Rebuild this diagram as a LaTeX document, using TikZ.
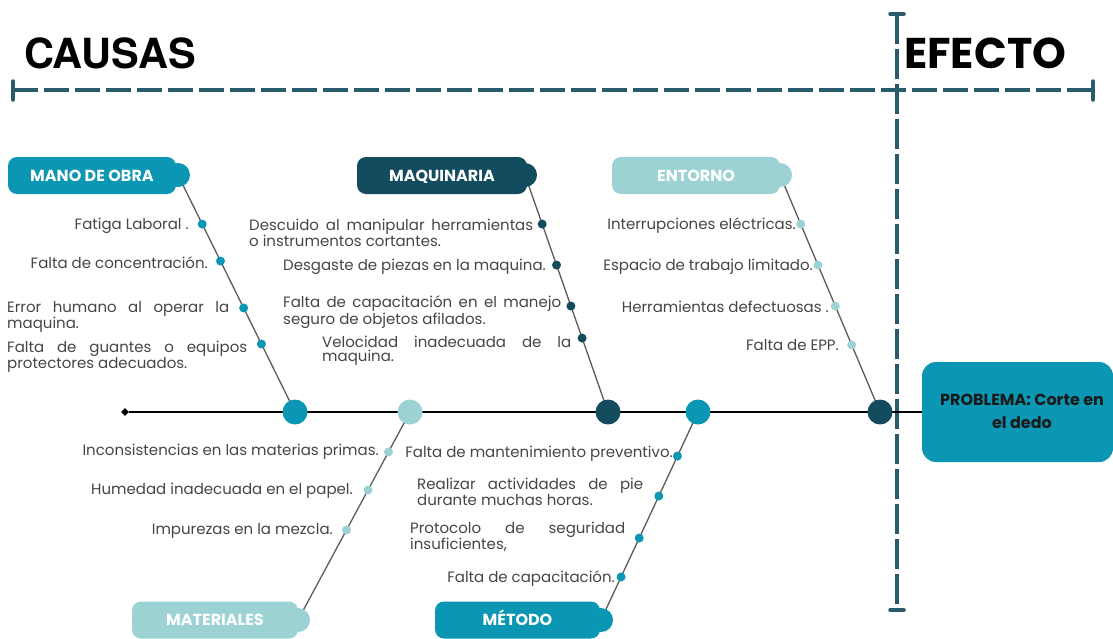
\documentclass[tikz,border=0pt]{standalone}
\usepackage{fontspec}
\setmainfont{Poppins}
\newfontfamily\heros{TeX Gyre Heros}
\usetikzlibrary{shapes.geometric}
\definecolor{tealA}{HTML}{0B96B4}
\definecolor{navyA}{HTML}{134B5F}
\definecolor{lightA}{HTML}{9CD2D4}
\definecolor{dashA}{HTML}{285B6C}
\definecolor{txtA}{HTML}{454545}
\definecolor{brA}{HTML}{5A5A5A}
\definecolor{probtxt}{HTML}{1A1A1A}
\tikzset{
  lbl/.style={font=\fontsize{15}{14}\selectfont, text=txtA, inner sep=0pt, yshift=-2pt},
  lblj/.style={lbl, align=left},
  tabbox/.style={rectangle, rounded corners=9pt, minimum width=168pt, minimum height=37pt, inner sep=0pt,
     text height=11.5pt, text depth=0.5pt,
     font=\bfseries\fontsize{16}{16}\selectfont, text=white},
  bump/.style={circle, inner sep=0pt, minimum size=24pt},
  dot/.style={circle, inner sep=0pt, minimum size=9pt},
  bone/.style={circle, inner sep=0pt, minimum size=25pt},
  branch/.style={draw=brA, line width=1.3pt},
  spine/.style={draw=black, line width=2pt},
  dashln/.style={draw=dashA, line width=3.5pt, dash pattern=on 25pt off 6pt},
  capln/.style={draw=dashA, line width=3.5pt, line cap=round},
}
\begin{document}
\begin{tikzpicture}[x=1pt,y=-1pt]
\useasboundingbox (0,0) rectangle (1113,638);
% headers
\node[anchor=base west, inner sep=0pt, font=\heros\bfseries\fontsize{41.5}{42}\selectfont] (causas) at (24,68) {CAUSAS};
\node[anchor=base west, inner sep=0pt, font=\bfseries\fontsize{43}{44}\selectfont] (efecto) at (904,68) {EFECTO};
% dashed frame lines
\coordinate (hL) at (13,90); \coordinate (hR) at (1093,90);
\coordinate (vT) at (897,14); \coordinate (vB) at (897,610);
\draw[dashln] (hL) -- (hR);
\draw[dashln, dash pattern=on 30pt off 5pt] (vT) -- (vB);
\coordinate (hL1) at (13,81); \coordinate (hL2) at (13,100);
\coordinate (hR1) at (1093,81); \coordinate (hR2) at (1093,100);
\coordinate (vT1) at (890,14); \coordinate (vT2) at (904,14);
\coordinate (vB1) at (890,610); \coordinate (vB2) at (904,610);
\draw[capln] (hL1) -- (hL2); \draw[capln] (hR1) -- (hR2);
\draw[capln] (vT1) -- (vT2); \draw[capln] (vB1) -- (vB2);
\draw[dashA, line width=3pt] (vT) -- (897,40);
% problem box
\node[rectangle, rounded corners=14pt, fill=tealA, minimum width=191pt, minimum height=100pt, inner sep=0pt] (prob) at (1017.5,412) {};
\node[font=\bfseries\fontsize{16}{23}\selectfont, text=probtxt, align=center, inner sep=0pt] (probt) at (1022,411) {PROBLEMA: Corte en\\el dedo};
% spine
\node[diamond, fill=black, minimum size=8pt, inner sep=0pt] (diam) at (125,412) {};
\draw[spine] (diam) -- (prob.west);
% bone coordinates
\coordinate (pMO) at (295,412); \coordinate (pMT) at (410,412);
\coordinate (pMQ) at (608,412); \coordinate (pME) at (698,412);
\coordinate (pEN) at (880,412);
\coordinate (bMO) at (178,175); \coordinate (bMQ) at (525,175);
\coordinate (bEN) at (780,175); \coordinate (bMT) at (298,620);
\coordinate (bME) at (601,620);
% branches with dots
\draw[branch] (bMO) -- (pMO)
  node[dot, fill=tealA, pos=.207] (dMO1) {}
  node[dot, fill=tealA, pos=.363] (dMO2) {}
  node[dot, fill=tealA, pos=.561] (dMO3) {}
  node[dot, fill=tealA, pos=.713] (dMO4) {};
\draw[branch] (bMQ) -- (pMQ)
  node[dot, fill=navyA, pos=.207] (dMQ1) {}
  node[dot, fill=navyA, pos=.380] (dMQ2) {}
  node[dot, fill=navyA, pos=.553] (dMQ3) {}
  node[dot, fill=navyA, pos=.688] (dMQ4) {};
\draw[branch] (bEN) -- (pEN)
  node[dot, fill=lightA, pos=.207] (dEN1) {}
  node[dot, fill=lightA, pos=.380] (dEN2) {}
  node[dot, fill=lightA, pos=.553] (dEN3) {}
  node[dot, fill=lightA, pos=.717] (dEN4) {};
\draw[branch] (bMT) -- (pMT)
  node[dot, fill=lightA, pos=.808] (dMT1) {}
  node[dot, fill=lightA, pos=.625] (dMT2) {}
  node[dot, fill=lightA, pos=.433] (dMT3) {};
\draw[branch] (bME) -- (pME)
  node[dot, fill=tealA, pos=.788] (dME1) {}
  node[dot, fill=tealA, pos=.596] (dME2) {}
  node[dot, fill=tealA, pos=.394] (dME3) {}
  node[dot, fill=tealA, pos=.207] (dME4) {};
% bone circles
\node[bone, fill=tealA] (cMO) at (pMO) {};
\node[bone, fill=lightA] (cMT) at (pMT) {};
\node[bone, fill=navyA] (cMQ) at (pMQ) {};
\node[bone, fill=tealA] (cME) at (pME) {};
\node[bone, fill=navyA] (cEN) at (pEN) {};
% tabs
\node[bump, fill=tealA] (kMO) at (bMO) {};
\node[tabbox, fill=tealA] (tMO) at (92,175.5) {MANO DE OBRA};
\node[bump, fill=navyA] (kMQ) at (bMQ) {};
\node[tabbox, fill=navyA, minimum width=170pt] (tMQ) at (442,175.5) {MAQUINARIA};
\node[bump, fill=lightA] (kEN) at (bEN) {};
\node[tabbox, fill=lightA] (tEN) at (696,175.5) {ENTORNO};
\node[bump, fill=lightA] (kMT) at (bMT) {};
\node[tabbox, fill=lightA, minimum width=166pt] (tMT) at (215,620) {MATERIALES};
\node[bump, fill=tealA] (kME) at (bME) {};
\node[tabbox, fill=tealA, minimum width=165pt] (tME) at (517.5,620) {MÉTODO};
% labels: mano de obra
\node[lbl, anchor=east] (lMO1) at (189,224) {Fatiga Laboral .};
\node[lbl, anchor=east] (lMO2) at (208,261) {Falta de concentración.};
\node[lblj, anchor=west] (lMO3) at (7,315) {\makebox[222pt][s]{Error humano al operar la}\\maquina.};
\node[lblj, anchor=west] (lMO4) at (7,355) {\makebox[240pt][s]{Falta de guantes o equipos}\\protectores adecuados.};
% maquinaria
\node[lblj, anchor=west] (lMQ1) at (249,231) {\makebox[284pt][s]{Descuido al manipular herramientas}\\o instrumentos cortantes.};
\node[lbl, anchor=east] (lMQ2) at (546,265) {Desgaste de piezas en la maquina.};
\node[lblj, anchor=west] (lMQ3) at (283,310) {\makebox[278pt][s]{Falta de capacitación en el manejo}\\seguro de objetos afilados.};
\node[lblj, anchor=west] (lMQ4) at (322,349) {\makebox[249pt][s]{Velocidad inadecuada de la}\\maquina.};
% entorno
\node[lbl, anchor=east] (lEN1) at (796,224) {Interrupciones eléctricas.};
\node[lbl, anchor=east] (lEN2) at (813,265) {Espacio de trabajo limitado.};
\node[lbl, anchor=east] (lEN3) at (829,305) {Herramientas defectuosas .};
\node[lbl, anchor=east] (lEN4) at (839,343) {Falta de EPP.};
% materiales
\node[lbl, anchor=east] (lMT1) at (379,450) {Inconsistencias en las materias primas.};
\node[lbl, anchor=east] (lMT2) at (353,489) {Humedad inadecuada en el papel.};
\node[lbl, anchor=east] (lMT3) at (333,529) {Impurezas en la mezcla.};
% metodo
\node[lbl, anchor=east] (lME1) at (673,452) {Falta de mantenimiento preventivo.};
\node[lblj, anchor=west] (lME2) at (417,490) {\makebox[226pt][s]{Realizar actividades de pie}\\durante muchas horas.};
\node[lblj, anchor=west] (lME3) at (410,535) {\makebox[215pt][s]{Protocolo de seguridad}\\insuficientes,};
\node[lbl, anchor=east] (lME4) at (615,577) {Falta de capacitación.};
\end{tikzpicture}
\end{document}
